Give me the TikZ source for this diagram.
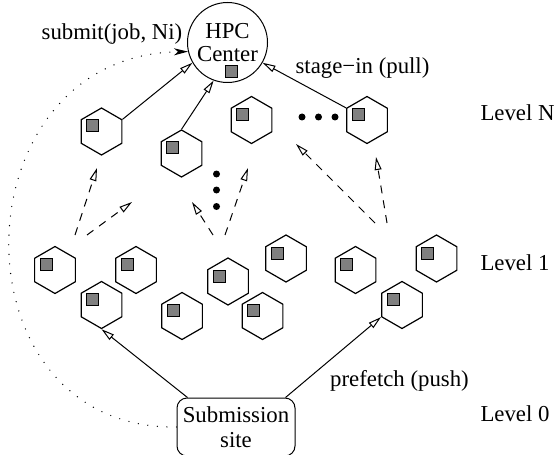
\documentclass[tikz,border=0pt]{standalone}
\usepackage{fontspec}
\setmainfont{Liberation Serif}
\usepackage{tikz}
\usetikzlibrary{arrows.meta, shapes.geometric}
\definecolor{hopxam}{RGB}{128,128,128}

\tikzset{
  tram/.style={regular polygon, regular polygon sides=6, shape border rotate=90, draw, line width=0.6pt,
    minimum size=23.5pt, inner sep=0pt,
    path picture={\filldraw[fill=hopxam, line width=0.5pt] ([shift={(-7.5pt,-0.25pt)}]path picture bounding box.center) rectangle ++(6pt,6pt);}},
  muiten/.style={->},
  netdut/.style={->, dash pattern=on 4pt off 3.5pt},
  chamcham/.style={line width=0.7pt, line cap=round, dash pattern=on 0pt off 4.8pt, -{Stealth[length=7pt,width=3.5pt,inset=2pt]}}
}

\begin{document}
\begin{tikzpicture}[x=0.5pt, y=-0.5pt, line width=0.5pt, font=\fontsize{11.4}{12.5}\selectfont,
    >={Triangle[open,length=6.5pt,width=3.4pt]}]

            \useasboundingbox (0,0) rectangle (555,454); % Khung hình

            % Trung tâm HPC và nơi gửi
            \node[circle, draw, minimum size=40pt, inner sep=0pt, align=center] (hpc) at (227.5,42.5) {HPC\\[-1pt]Center}; % HPC
            \filldraw[fill=hopxam] (225.5,65.5) rectangle (237.5,77.5); % Ô xám trong HPC
            \node[draw, rounded corners=5pt, minimum width=59pt, minimum height=29pt, inner sep=0pt, align=center] (site) at (236,427) {Submission\\site}; % Nơi gửi

            % Tầng N
            \node[tram] (a1) at (101.5,131.5) {};
            \node[tram] (a2) at (181.5,153.5) {};
            \node[tram] (a3) at (251.5,120) {};
            \node[tram] (a4) at (367,120) {};

            % Tầng 1
            \node[tram] (b1) at (55,270) {};
            \node[tram] (b2) at (101.5,305) {};
            \node[tram] (b3) at (136,270) {};
            \node[tram] (b4) at (182,316) {};
            \node[tram] (b5) at (228,281.5) {};
            \node[tram] (b6) at (262.5,316) {};
            \node[tram] (b7) at (286,258.5) {};
            \node[tram] (b8) at (355.5,270) {};
            \node[tram] (b9) at (436.5,258.5) {};
            \node[tram] (b10) at (402,305) {};

            % Dấu chấm
            \fill (302,117) circle (1.75pt);
            \fill (318.5,117) circle (1.75pt);
            \fill (335,117) circle (1.75pt);
            \fill (216.5,174) circle (1.75pt);
            \fill (216.5,190) circle (1.75pt);
            \fill (216.5,206.5) circle (1.75pt);

            % Mũi tên liền
            \draw[muiten] (a1.30) -- (hpc.210); % Lên HPC
            \draw[muiten] (a2.90) -- (hpc.250);
            \draw[muiten] (a4.150) -- (hpc.330); % stage-in
            \draw[muiten] ([xshift=5.5pt]site.north west) -- (b2.270); % prefetch
            \draw[muiten] ([xshift=-5pt]site.north east) -- (b10.210);

            % Mũi tên nét đứt
            \coordinate (d1s) at (75,235);  \coordinate (d1e) at (97,168);
            \coordinate (d2s) at (87,235);  \coordinate (d2e) at (132,202);
            \coordinate (d3s) at (213,235); \coordinate (d3e) at (192,202);
            \coordinate (d4s) at (225,235); \coordinate (d4e) at (248,168);
            \coordinate (d5s) at (375,223); \coordinate (d5e) at (296,144);
            \coordinate (d6s) at (387,223); \coordinate (d6e) at (376,157);
            \draw[netdut] (d1s) -- (d1e);
            \draw[netdut] (d2s) -- (d2e);
            \draw[netdut] (d3s) -- (d3e);
            \draw[netdut] (d4s) -- (d4e);
            \draw[netdut] (d5s) -- (d5e);
            \draw[netdut] (d6s) -- (d6e);

            % Đường chấm gửi job
            \draw[chamcham] (site.west) .. controls (-50,430) and (-45,55) .. (hpc.193);

            % Nhãn
            \node (submit) at (112,34) {submit(job, Ni)};
            \node (stagein) at (362.5,68.5) {stage−in (pull)};
            \node (prefetch) at (399.5,381) {prefetch (push)};
            \node[anchor=west, inner sep=0pt] (lvN) at (480,112.5) {Level N};
            \node[anchor=west, inner sep=0pt] (lv1) at (480,262.5) {Level 1};
            \node[anchor=west, inner sep=0pt] (lv0) at (480,413.5) {Level 0};

\end{tikzpicture}
\end{document}
